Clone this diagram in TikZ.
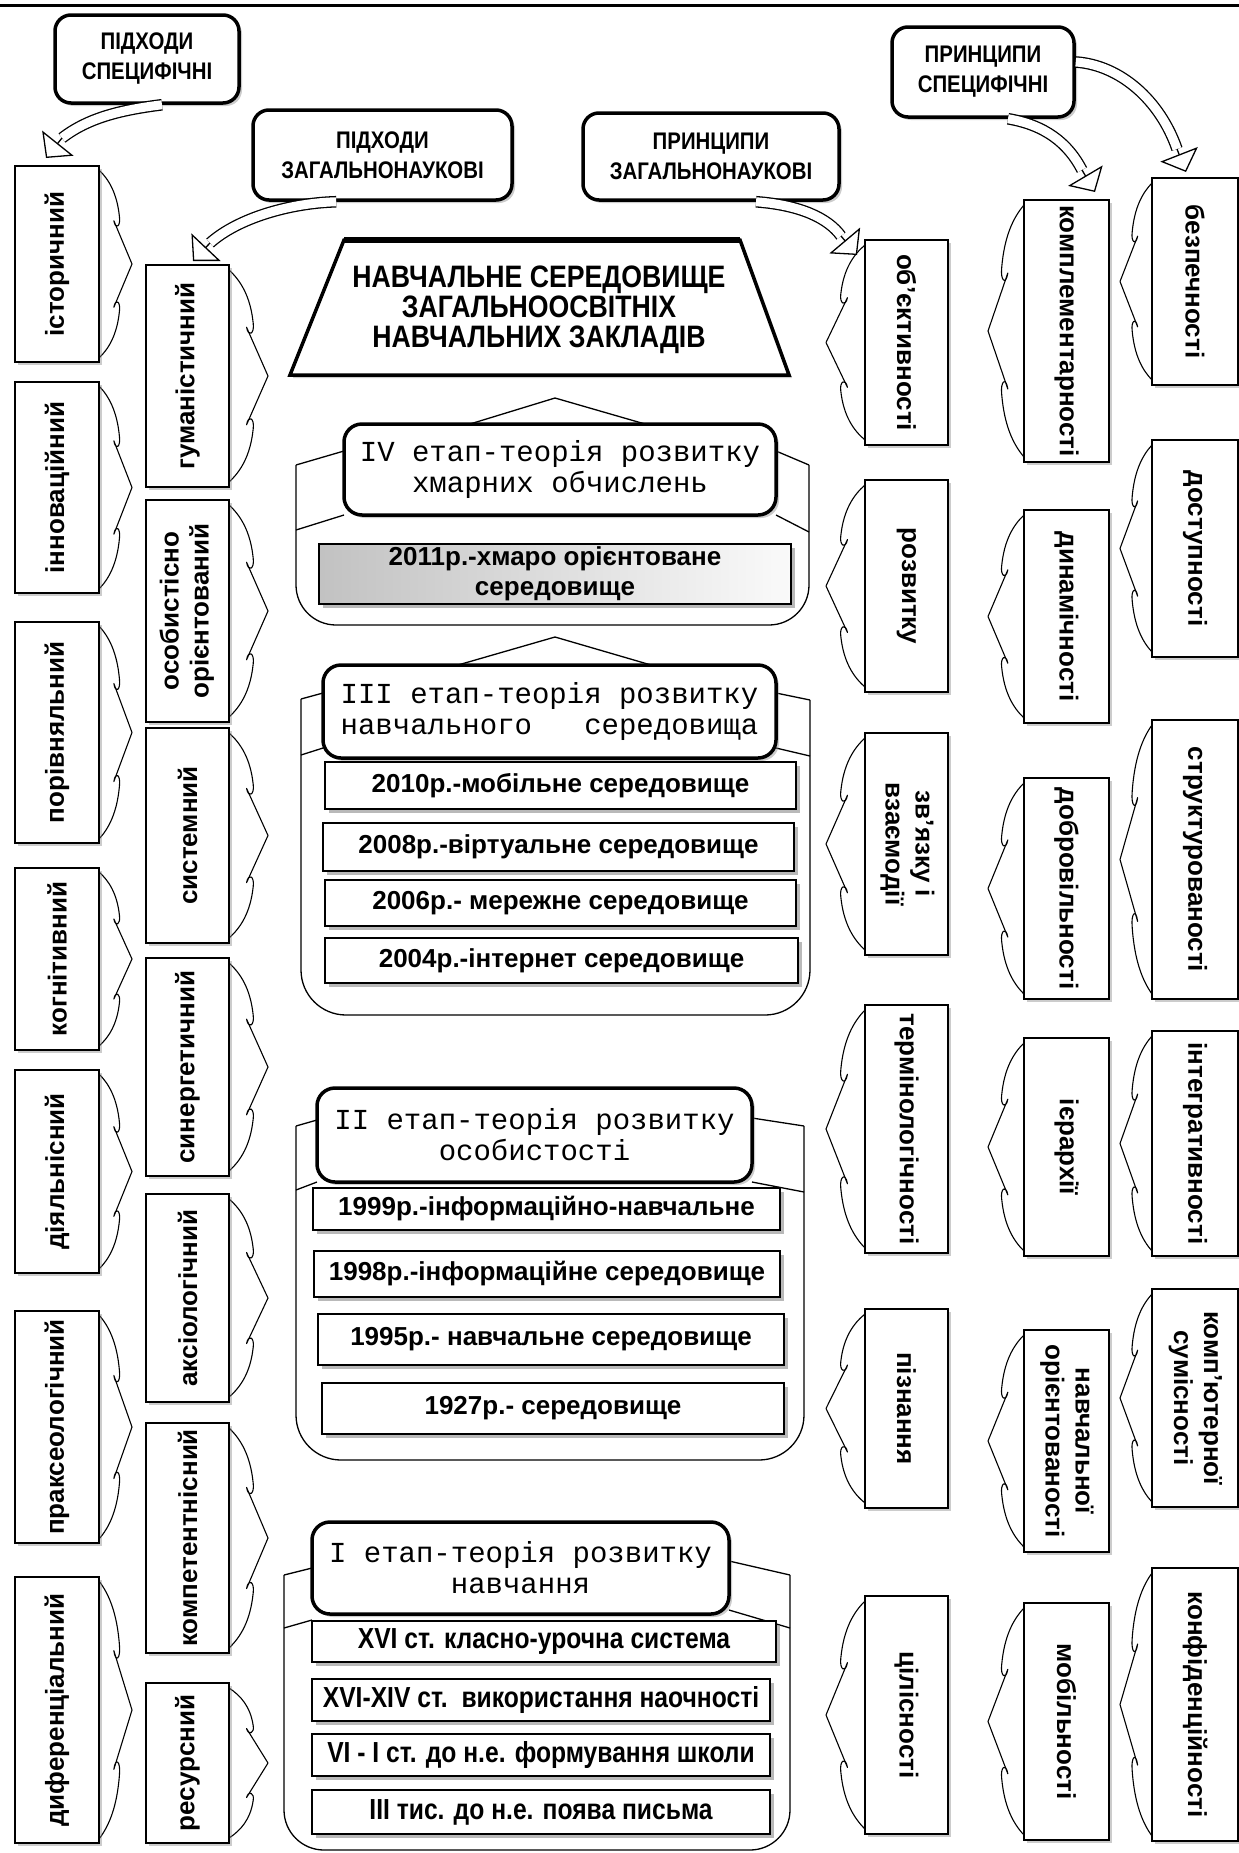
\documentclass[tikz,border=0pt]{standalone}
\usepackage{fontspec}
\usepackage{graphicx}
\setmainfont{Liberation Sans}
\newfontfamily\narrowfont{Liberation Sans}[FakeStretch=0.85]
\newfontfamily\titlefont{Liberation Sans}[FakeStretch=0.86]
\newfontfamily\stagefont{Liberation Mono}
\usetikzlibrary{arrows.meta,shadows,calc}

\newcommand\mkbox[7]{%
  \pgfmathsetmacro\mbx{(#3+#5)/2}%
  \pgfmathsetmacro\mby{(#4+#6)/2}%
  \pgfmathsetmacro\mbw{#5-#3}%
  \pgfmathsetmacro\mbh{#6-#4}%
  \node[#1, minimum width=\mbw pt, minimum height=\mbh pt] (#2) at (\mbx,\mby) {#7};}

\newcommand\mkbrk[4]{%
  \pgfmathsetmacro\bym{(#2+#3)/2}%
  \pgfmathsetmacro\bw{#4-#1}%
  \pgfmathsetmacro\bh{(#3-#2)/2}%
  \begin{scope}[shift={(#1,\bym)}, xscale=\bw, yscale=\bh]
    \draw[brkline] (0,-1) .. controls (0.3,-0.9) and (0.55,-0.75) .. (0.62,-0.5)
      .. controls (0.66,-0.4) and (0.5,-0.36) .. (0.45,-0.46) -- (1,0) -- (0.45,0.46)
      .. controls (0.5,0.36) and (0.66,0.4) .. (0.62,0.5)
      .. controls (0.55,0.75) and (0.3,0.9) .. (0,1);
  \end{scope}}

\newcommand\blockarrow[5]{%
  \draw[line width=1.3pt, double=white, double distance=9pt] #1 .. controls #2 and #3 .. #4;
  \draw[line width=1.3pt, -{Triangle[width=40pt,length=19pt,fill=white]}] #4 -- #5;}

\begin{document}
\begin{tikzpicture}[x=1pt,y=-1pt,
  shad/.style={drop shadow={opacity=0.4, shadow xshift=3pt, shadow yshift=-3pt}},
  colbox/.style={draw, line width=1.5pt, fill=white, inner sep=0pt, shad,
    font=\bfseries\fontsize{26}{30}\selectfont},
  brkline/.style={line width=1.1pt, line join=round},
  topbox/.style={draw, line width=3.5pt, rounded corners=16pt, fill=white, inner sep=0pt,
    align=center, shad, font=\narrowfont\bfseries\fontsize{24}{30}\selectfont},
  hdrbox/.style={draw, line width=3.5pt, rounded corners=18pt, fill=white, inner sep=0pt,
    align=center, shad, font=\stagefont\fontsize{29}{31}\selectfont},
  itembox/.style={draw, line width=1.3pt, fill=white, inner sep=0pt, align=center,
    drop shadow={opacity=0.55, shadow xshift=4pt, shadow yshift=-4pt},
    font=\bfseries\fontsize{26}{30}\selectfont},
  itemnarrow/.style={itembox, font=\narrowfont\bfseries\fontsize{29}{32}\selectfont},
  contline/.style={line width=1.3pt, line join=round},
]
\useasboundingbox (0,0) rectangle (1239,1853);
\fill[white] (0,0) rectangle (1239,1853);
\draw[line width=3pt] (0,5) -- (1239,5);

% ---------- column A brackets and boxes
\mkbrk{99}{170}{358}{132}
\mkbrk{99}{386}{589}{132}
\mkbrk{99}{626}{839}{132}
\mkbrk{99}{872}{1046}{132}
\mkbrk{99}{1074}{1269}{132}
\mkbrk{99}{1315}{1539}{132}
\mkbrk{99}{1581}{1839}{132}
\mkbox{colbox}{a1}{15}{166}{99}{362}{\rotatebox{90}{історичний}}
\mkbox{colbox}{a2}{15}{382}{99}{593}{\rotatebox{90}{інноваційний}}
\mkbox{colbox}{a3}{15}{622}{99}{843}{\rotatebox{90}{порівняльний}}
\mkbox{colbox}{a4}{15}{868}{99}{1050}{\rotatebox{90}{когнітивний}}
\mkbox{colbox}{a5}{15}{1070}{99}{1273}{\rotatebox{90}{діяльнісний}}
\mkbox{colbox}{a6}{15}{1311}{99}{1543}{\rotatebox{90}{праксеологічний}}
\mkbox{colbox}{a7}{15}{1577}{99}{1843}{\rotatebox{90}{диференціальний}}

% ---------- column B
\mkbrk{229}{270}{482}{268}
\mkbrk{229}{505}{717}{268}
\mkbrk{229}{733}{938}{268}
\mkbrk{229}{963}{1171}{268}
\mkbrk{229}{1199}{1397}{268}
\mkbrk{229}{1428}{1648}{268}
\mkbrk{229}{1688}{1838}{268}
\mkbox{colbox}{b1}{146}{265}{229}{487}{\rotatebox{90}{гуманістичний}}
\mkbox{colbox}{b2}{146}{500}{229}{722}{\rotatebox{90}{\begin{tabular}{@{}c@{}}особистісно\\орієнтований\end{tabular}}}
\mkbox{colbox}{b3}{146}{728}{229}{943}{\rotatebox{90}{системний}}
\mkbox{colbox}{b4}{146}{958}{229}{1176}{\rotatebox{90}{синергетичний}}
\mkbox{colbox}{b5}{146}{1194}{229}{1402}{\rotatebox{90}{аксіологічний}}
\mkbox{colbox}{b6}{146}{1423}{229}{1653}{\rotatebox{90}{компетентнісний}}
\mkbox{colbox}{b7}{146}{1683}{229}{1843}{\rotatebox{90}{ресурсний}}

% ---------- column C
\mkbrk{865}{245}{440}{826}
\mkbrk{865}{485}{687}{826}
\mkbrk{865}{738}{950}{826}
\mkbrk{865}{1010}{1248}{826}
\mkbrk{865}{1314}{1503}{826}
\mkbrk{865}{1601}{1829}{826}
\mkbox{colbox}{c1}{865}{240}{948}{445}{\rotatebox{-90}{об’єктивності}}
\mkbox{colbox}{c2}{865}{480}{948}{692}{\rotatebox{-90}{розвитку}}
\mkbox{colbox}{c3}{865}{733}{948}{955}{\rotatebox{-90}{\begin{tabular}{@{}c@{}}зв’язку і\\взаємодії\end{tabular}}}
\mkbox{colbox}{c4}{865}{1005}{948}{1253}{\rotatebox{-90}{термінологічності}}
\mkbox{colbox}{c5}{865}{1309}{948}{1508}{\rotatebox{-90}{пізнання}}
\mkbox{colbox}{c6}{865}{1596}{948}{1834}{\rotatebox{-90}{цілісності}}

% ---------- column D
\mkbrk{1024}{205}{457}{988}
\mkbrk{1024}{515}{718}{988}
\mkbrk{1024}{783}{994}{988}
\mkbrk{1024}{1043}{1251}{988}
\mkbrk{1024}{1335}{1547}{988}
\mkbrk{1024}{1608}{1835}{988}
\mkbox{colbox}{d1}{1024}{200}{1109}{462}{\rotatebox{-90}{комплементарності}}
\mkbox{colbox}{d2}{1024}{510}{1109}{723}{\rotatebox{-90}{динамічності}}
\mkbox{colbox}{d3}{1024}{778}{1109}{999}{\rotatebox{-90}{добровільності}}
\mkbox{colbox}{d4}{1024}{1038}{1109}{1256}{\rotatebox{-90}{ієрархії}}
\mkbox{colbox}{d5}{1024}{1330}{1109}{1552}{\rotatebox{-90}{\begin{tabular}{@{}c@{}}навчальної\\орієнтованості\end{tabular}}}
\mkbox{colbox}{d6}{1024}{1603}{1109}{1840}{\rotatebox{-90}{мобільності}}

% ---------- column E
\mkbrk{1152}{183}{380}{1120}
\mkbrk{1152}{445}{652}{1120}
\mkbrk{1152}{725}{994}{1120}
\mkbrk{1152}{1036}{1251}{1120}
\mkbrk{1152}{1294}{1502}{1120}
\mkbrk{1152}{1573}{1836}{1120}
\mkbox{colbox}{e1}{1152}{178}{1238}{385}{\rotatebox{-90}{безпечності}}
\mkbox{colbox}{e2}{1152}{440}{1238}{657}{\rotatebox{-90}{доступності}}
\mkbox{colbox}{e3}{1152}{720}{1238}{999}{\rotatebox{-90}{структурованості}}
\mkbox{colbox}{e4}{1152}{1031}{1238}{1256}{\rotatebox{-90}{інтегративності}}
\mkbox{colbox}{e5}{1152}{1289}{1238}{1507}{\rotatebox{-90}{\begin{tabular}{@{}c@{}}комп’ютерної\\сумісності\end{tabular}}}
\mkbox{colbox}{e6}{1152}{1568}{1238}{1841}{\rotatebox{-90}{конфіденційності}}

% ---------- top boxes
\mkbox{topbox}{specA}{55}{15}{239}{103}{ПІДХОДИ\\СПЕЦИФІЧНІ}
\mkbox{topbox}{genA}{253}{110}{512}{200}{ПІДХОДИ\\ЗАГАЛЬНОНАУКОВІ}
\mkbox{topbox}{genP}{583}{113}{839}{200}{ПРИНЦИПИ\\ЗАГАЛЬНОНАУКОВІ}
\mkbox{topbox}{specP}{892}{27}{1074}{117}{ПРИНЦИПИ\\СПЕЦИФІЧНІ}

% ---------- block arrows
\coordinate (h1b) at (62,138);   \coordinate (h1t) at (46,158);
\coordinate (h2b) at (210,243);  \coordinate (h2t) at (193,261);
\coordinate (h3b) at (841,236);  \coordinate (h3t) at (857,255);
\coordinate (h4b) at (1082,170); \coordinate (h4t) at (1095,192);
\coordinate (h5b) at (1177,149); \coordinate (h5t) at (1186,172);
\blockarrow{($(specA.south)+(15,0)$)}{(120,110)}{(88,118)}{(h1b)}{(h1t)}
\blockarrow{($(genA.south west)+(85,0)$)}{(290,203)}{(238,218)}{(h2b)}{(h2t)}
\blockarrow{($(genP.south)+(45,0)$)}{(800,205)}{(828,218)}{(h3b)}{(h3t)}
\blockarrow{($(specP.south)+(25,0)$)}{(1045,125)}{(1068,143)}{(h4b)}{(h4t)}
\blockarrow{($(specP.east)+(0,-10)$)}{(1120,65)}{(1160,100)}{(h5b)}{(h5t)}

% ---------- title trapezoid
\draw[line width=3.5pt, line join=miter, fill=white, shad] (344,240) -- (740,240) -- (789,375) -- (290,375) -- cycle;
\draw[line width=6pt] (344,240) -- (740,240);
\node[font=\titlefont\bfseries\fontsize{31}{30}\selectfont, align=center] (title) at (539,310)
  {НАВЧАЛЬНЕ СЕРЕДОВИЩЕ\\ЗАГАЛЬНООСВІТНІХ\\НАВЧАЛЬНИХ ЗАКЛАДІВ};

% ---------- stage IV
\draw[contline] (470,424) -- (555,398) -- (645,424);
\draw[contline, rounded corners=40pt, fill=white] (296,465) -- (296,625) -- (809,625) -- (809,465);
\draw[contline] (296,465) -- (344,451) (296,530) -- (344,515) (809,465) -- (776,451) (809,532) -- (776,515);
\mkbox{hdrbox}{hdr4}{344}{424}{776}{515}{IV етап-теорія розвитку\\хмарних обчислень}
\mkbox{itembox, left color=black!24, right color=black!2}{it11}{319}{544}{791}{604}{2011р.-хмаро орієнтоване\\середовище}

% ---------- stage III
\draw[contline] (458,665) -- (555,637) -- (651,665);
\draw[contline, rounded corners=45pt, fill=white] (301,699) -- (301,1015) -- (810,1015) -- (810,700);
\draw[contline] (301,699) -- (323,693) (301,755) -- (323,748) (810,700) -- (776,693) (810,756) -- (776,748);
\mkbox{hdrbox}{hdr3}{323}{665}{776}{758}{III етап-теорія розвитку\\навчального\ \ \ середовища}
\mkbox{itembox}{it10}{325}{762}{796}{809}{2010р.-мобільне середовище}
\mkbox{itembox}{it08}{323}{823}{794}{871}{2008р.-віртуальне середовище}
\mkbox{itembox}{it06}{325}{880}{796}{926}{2006р.- мережне середовище}
\mkbox{itembox}{it04}{325}{938}{798}{983}{2004р.-інтернет середовище}

% ---------- stage II
\draw[contline, rounded corners=45pt, fill=white] (296,1126) -- (296,1460) -- (804,1460) -- (804,1126);
\draw[contline] (296,1126) -- (317,1120) (296,1190) -- (317,1182) (804,1126) -- (752,1118) (804,1192) -- (752,1182);
\mkbox{hdrbox}{hdr2}{317}{1088}{752}{1182}{II етап-теорія розвитку\\особистості}
\mkbox{itembox}{it99}{313}{1188}{780}{1230}{1999р.-інформаційно-навчальне}
\mkbox{itembox}{it98}{314}{1251}{780}{1297}{1998р.-інформаційне середовище}
\mkbox{itembox}{it95}{318}{1314}{784}{1365}{1995р.- навчальне середовище}
\mkbox{itembox}{it27}{322}{1383}{784}{1434}{1927р.- середовище}

% ---------- stage I
\draw[contline, rounded corners=40pt, fill=white] (284,1575) -- (284,1850) -- (790,1850) -- (790,1575);
\draw[contline] (284,1575) -- (312,1568) (284,1628) -- (312,1620) (790,1575) -- (729,1561) (790,1628) -- (729,1610);
\mkbox{hdrbox}{hdr1}{312}{1522}{729}{1614}{I етап-теорія розвитку\\навчання}
\mkbox{itemnarrow}{i16}{312}{1621}{776}{1662}{XVI ст. класно-урочна система}
\mkbox{itemnarrow}{i14}{312}{1679}{770}{1721}{XVI-XIV ст.\ \ використання наочності}
\mkbox{itemnarrow}{i6}{312}{1734}{770}{1776}{VI - I ст. до н.е. формування школи}
\mkbox{itemnarrow}{i3}{312}{1790}{770}{1834}{III тис. до н.е. поява письма}
\end{tikzpicture}
\end{document}
